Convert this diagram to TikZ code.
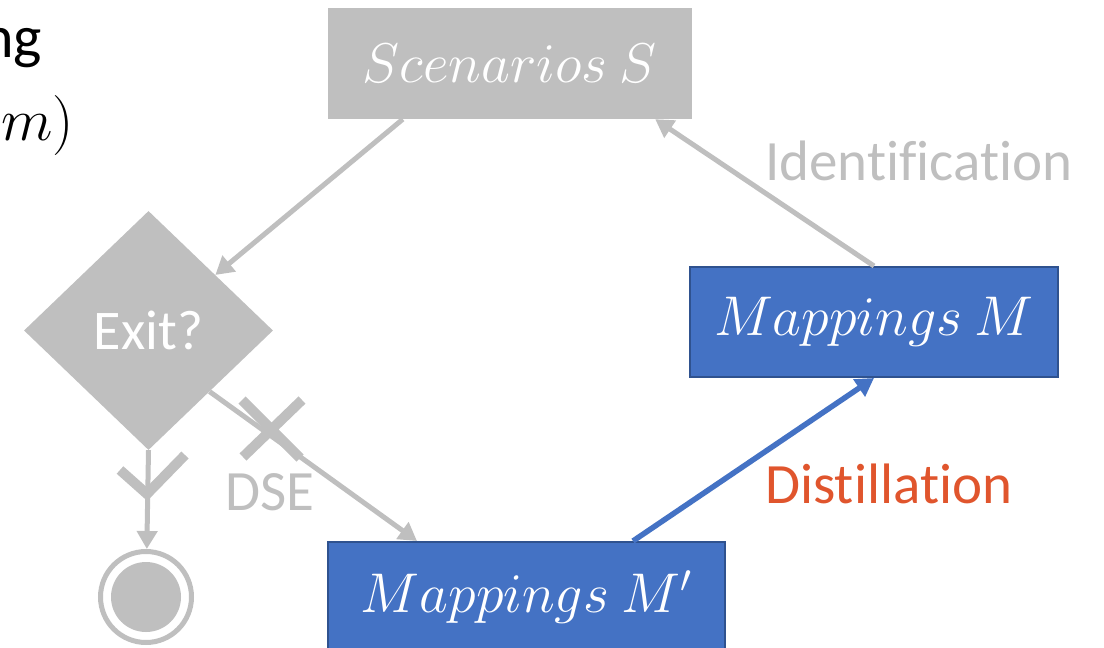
\RequirePackage{fix-cm}
\documentclass[tikz,border=0pt]{standalone}
\usepackage{fontspec}
\setmainfont{Carlito}[Ligatures={NoCommon,NoRequired,NoContextual,NoRare}]
\usetikzlibrary{arrows.meta,shapes.geometric,calc}
\definecolor{stategray}{HTML}{BFBFBF}
\definecolor{mapblue}{HTML}{4472C4}
\definecolor{mapborder}{HTML}{2F528F}
\definecolor{distorange}{HTML}{E0552D}
\begin{document}
\begin{tikzpicture}[x=1pt,y=-1pt]
        \tikzstyle{graybox}=[rectangle,fill=stategray,text=white,minimum width=364pt,minimum height=111pt,font=\fontsize{56}{60}\selectfont]
        \tikzstyle{bluebox}=[rectangle,fill=mapblue,draw=mapborder,line width=2pt,text=white,minimum height=110pt,font=\fontsize{56}{60}\selectfont]
        \tikzstyle{decision}=[diamond,fill=stategray,text=white,inner sep=0pt,minimum width=249pt,minimum height=239pt,font=\fontsize{56}{60}\selectfont]
        \tikzstyle{final}=[circle,draw=stategray,line width=5pt,fill=white,minimum size=91pt]
        \tikzstyle{flow}=[draw=stategray,line width=5pt,-{Triangle[length=18pt,width=20pt]}]
        \tikzstyle{blueflow}=[draw=mapblue,line width=5.5pt,-{Triangle[length=18pt,width=20pt]}]
        \tikzstyle{flowtext}=[inner sep=0pt,anchor=base west,font=\fontsize{57}{60}\selectfont]
        \tikzstyle{crossmark}=[draw=stategray,line width=10pt]
        \useasboundingbox (0,0) rectangle (1104,648);
        \clip (0,0) rectangle (1104,648);
        \begin{scope}
           \node [inner sep=0pt,anchor=base east,font=\fontsize{60}{64}\selectfont] (head1) at (42,57) {ng};
           \node [inner sep=0pt,anchor=base east,font=\fontsize{60}{64}\selectfont] (head2) at (74,140) {$m)$};
           \node [graybox] (scen) at (510,63.5) {$Scenarios\ S$};
           \node [bluebox,minimum width=368pt] (mm) at (874,322) {$Mappings\ M$};
           \node [bluebox,minimum width=397pt] (mp) at (526.5,597) {$Mappings\ M'$};
           \node [decision] (exit) at (148.5,330.5) {Exit?};
           \node [final] (end) at (146,597) {};
           \fill [stategray] (end) circle (35pt);
           \draw[flow] ($(scen.south west)+(75,0)$) -- (exit);
           \draw[flow] (mm.north) -- ($(scen.south east)+(-37,0)$);
           \draw[blueflow] ($(mp.north west)+(306,0)$) -- (mm.south);
           \draw[flow] (exit.-45) -- ($(mp.north west)+(90,0)$);
           \draw[flow] (exit.south) -- (end);
           \path[crossmark] (242,400) -- (300,458) (243,457) -- (302,400);
           \path[crossmark] (120,470) -- (147,494) -- (185,455);
           \node [flowtext,text=stategray] (ident) at (765,180) {Identification};
           \node [flowtext,text=distorange] (distil) at (765,503) {Distillation};
           \node [flowtext,text=stategray] (dse) at (225,510) {DSE};
        \end{scope}
      \end{tikzpicture}
\end{document}
